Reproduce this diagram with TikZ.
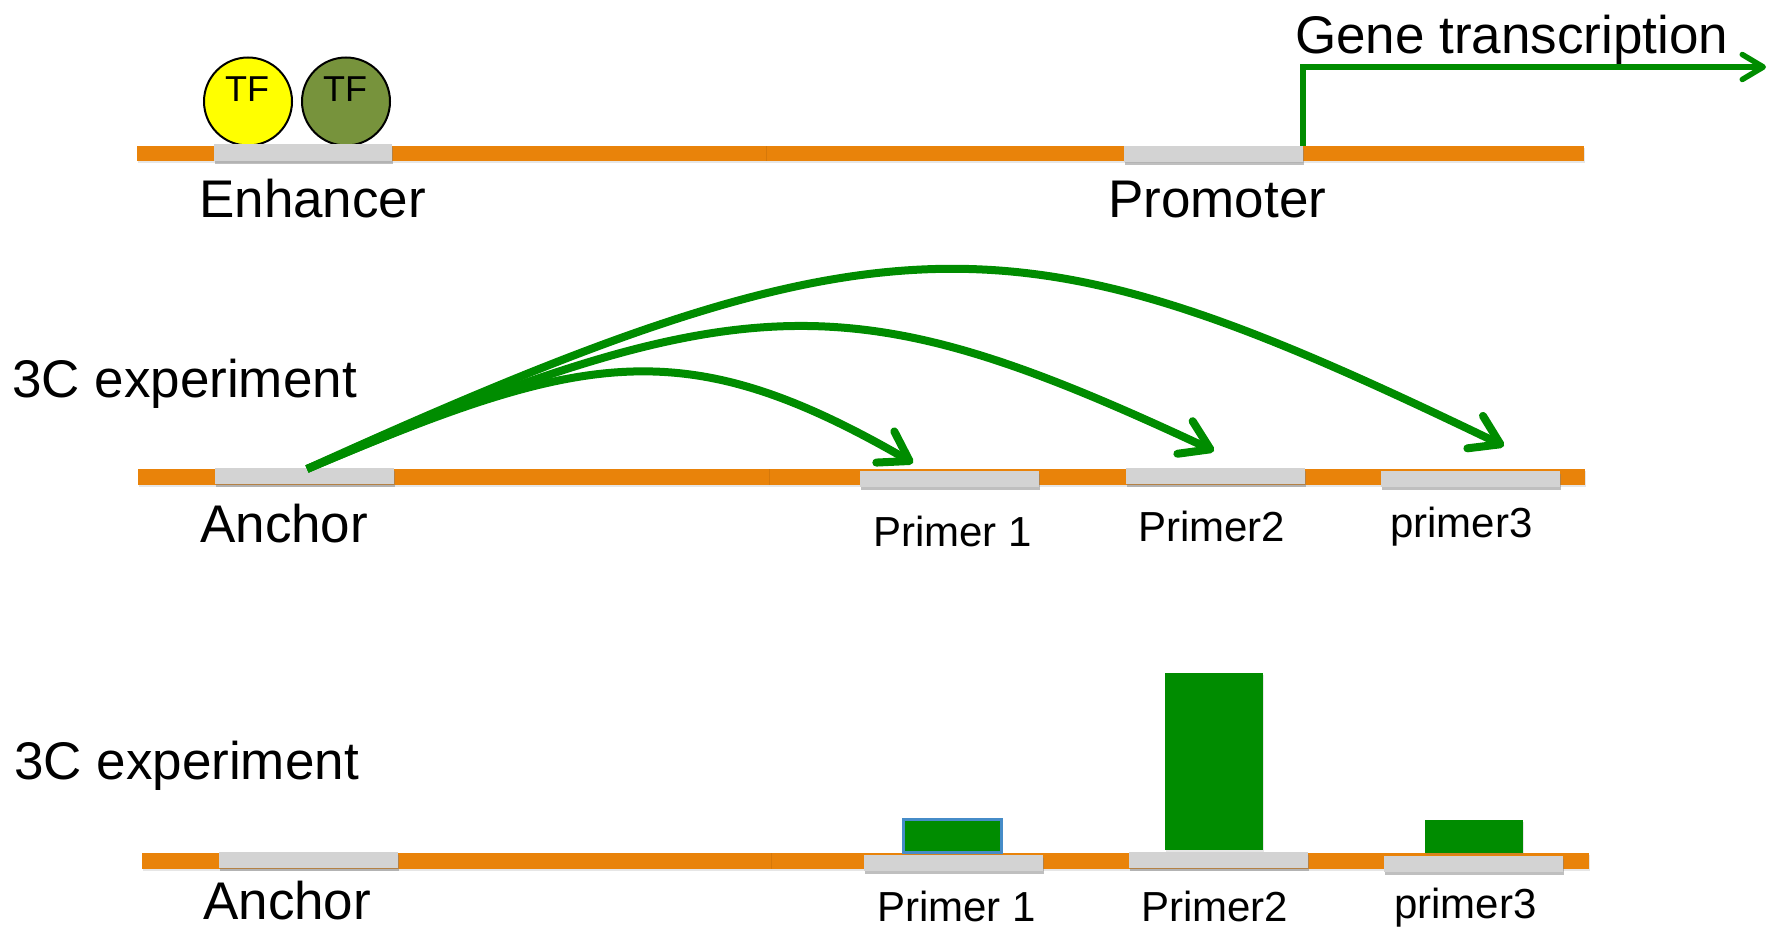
\documentclass[tikz,border=0pt]{standalone}
\usepackage{fontspec}
\setmainfont{Liberation Sans}
\usetikzlibrary{arrows.meta,shadows}
\definecolor{dnaorange}{RGB}{233,131,10}
\definecolor{seggray}{RGB}{211,211,211}
\definecolor{arrgreen}{RGB}{0,140,0}
\definecolor{tfyellow}{RGB}{255,255,0}
\definecolor{tfolive}{RGB}{119,147,60}
\definecolor{barblue}{RGB}{70,140,200}
\begin{document}
\begin{tikzpicture}[x=1pt,y=-1pt,
  dnaline/.style={fill=dnaorange, drop shadow={shadow xshift=0.5pt,shadow yshift=-2pt,opacity=.2}},
  seam/.style={draw=dnaorange!80!black, line width=1pt, opacity=.4},
  seg/.style={rectangle, fill=seggray, inner sep=0pt, minimum width=179pt, minimum height=16pt,
    drop shadow={shadow xshift=1pt,shadow yshift=-3pt,opacity=.5}},
  biglab/.style={inner sep=0pt, anchor=base west, font=\fontsize{53}{60}\selectfont},
  smalllab/.style={inner sep=0pt, anchor=base west, font=\fontsize{42}{48}\selectfont},
  tfball/.style={circle, draw=black, line width=2pt, minimum size=88pt, inner sep=0pt},
  tftext/.style={inner sep=0pt, anchor=base, font=\fontsize{36}{40}\selectfont},
  contact/.style={draw=arrgreen, line width=8pt, -{Straight Barb[length=28pt,width=36pt,round]}},
  tss/.style={draw=arrgreen, line width=5.5pt, -{Straight Barb[length=21pt,width=25pt,round]}},
  signalbar/.style={rectangle, fill=arrgreen, inner sep=0pt, minimum width=98pt,
    drop shadow={shadow xshift=1pt,shadow yshift=-2pt,opacity=.2}}
]
\useasboundingbox (0,0) rectangle (1779,931);

% ---------- Row 1 ----------
\fill[dnaline] (137,146) rectangle (1584,161);
\draw[seam] (766,146) -- (766,161);
\node[tfball, fill=tfyellow] (tf1) at (248,101.5) {};
\node[tfball, fill=tfolive] (tf2) at (346,101.5) {};
\node[tftext] (tf1t) at (247,102) {TF};
\node[tftext] (tf2t) at (345,102) {TF};
\node[seg, minimum width=178pt, minimum height=17pt] (enh) at (303,152.5) {};
\node[seg] (prom) at (1213.5,154) {};
\node[biglab] (enhl) at (199,217) {Enhancer};
\node[biglab] (proml) at (1108,217) {Promoter};
\node[biglab] (gene) at (1295,54) {Gene transcription};
\coordinate (tsstip) at (1766,67);
\draw[tss] (prom.north east) |- (tsstip);

% ---------- Row 2 ----------
\fill[dnaline] (138,469) rectangle (1585,485);
\draw[seam] (769,469) -- (769,485);
\node[seg] (anc2) at (304.5,476) {};
\node[seg] (p1a) at (949.5,479) {};
\node[seg] (p2a) at (1215.5,476) {};
\node[seg] (p3a) at (1470,479) {};
\node[biglab] (exp2) at (12,397) {3C experiment};
\node[biglab] (anc2l) at (200,542) {Anchor};
\node[smalllab] (p1al) at (873,546) {Primer 1};
\node[smalllab] (p2al) at (1138,541) {Primer2};
\node[smalllab] (p3al) at (1390,537) {primer3};
\coordinate (src) at (307,469);
\coordinate (t1) at (913,463);
\coordinate (t2) at (1214,451);
\coordinate (t3) at (1504,446);
\draw[contact] (src) .. controls (583,352) and (683,330) .. (t1);
\draw[contact] (src) .. controls (749,282) and (852,282) .. (t2);
\draw[contact] (src) .. controls (900,200) and (1020,213) .. (t3);

% ---------- Row 3 ----------
\fill[dnaline] (142,853) rectangle (1589,869);
\draw[seam] (771.5,853) -- (771.5,869);
\node[seg] (anc3) at (308.5,860) {};
\node[seg] (p1b) at (953.5,863) {};
\node[seg] (p2b) at (1218.5,860) {};
\node[seg] (p3b) at (1473.5,863.5) {};
\node[signalbar, draw=barblue, line width=2.5pt, minimum height=33pt] (bar1) at (952.5,836) {};
\node[signalbar, minimum height=177pt] (bar2) at (1214,761.5) {};
\node[signalbar, minimum height=33pt] (bar3) at (1474,836.5) {};
\node[biglab] (exp3) at (14,779) {3C experiment};
\node[biglab] (anc3l) at (203,919) {Anchor};
\node[smalllab] (p1bl) at (877,921) {Primer 1};
\node[smalllab] (p2bl) at (1141,921) {Primer2};
\node[smalllab] (p3bl) at (1394,918) {primer3};
\end{tikzpicture}
\end{document}
